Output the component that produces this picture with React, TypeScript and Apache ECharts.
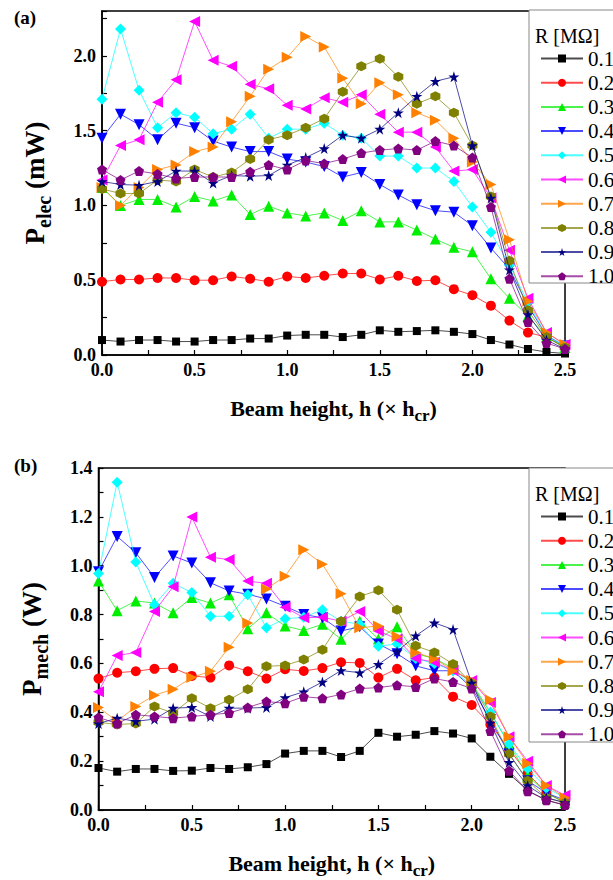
import React, { useEffect, useRef } from "react";
import * as echarts from "echarts";

const X = [0.0, 0.1, 0.2, 0.3, 0.4, 0.5, 0.6, 0.7, 0.8, 0.9, 1.0, 1.1, 1.2, 1.3, 1.4, 1.5, 1.6, 1.7, 1.8, 1.9, 2.0, 2.1, 2.2, 2.3, 2.4, 2.5];
const R_LABELS = ["0.1", "0.2", "0.3", "0.4", "0.5", "0.6", "0.7", "0.8", "0.9", "1.0"];

// Panel (a): P_elec (mW)
const A01 = [0.10, 0.09, 0.10, 0.10, 0.09, 0.09, 0.10, 0.10, 0.11, 0.11, 0.13, 0.135, 0.135, 0.12, 0.135, 0.165, 0.155, 0.16, 0.165, 0.155, 0.14, 0.10, 0.07, 0.04, 0.02, 0.01];
const A02 = [0.49, 0.505, 0.505, 0.515, 0.515, 0.50, 0.50, 0.525, 0.51, 0.49, 0.525, 0.515, 0.53, 0.545, 0.545, 0.505, 0.53, 0.495, 0.50, 0.44, 0.40, 0.33, 0.23, 0.15, 0.12, 0.05];
const A03 = [1.12, 1.00, 1.04, 1.04, 0.99, 1.06, 1.03, 1.07, 0.94, 0.995, 0.95, 0.93, 0.95, 0.90, 0.965, 0.89, 0.89, 0.835, 0.775, 0.72, 0.69, 0.51, 0.38, 0.26, 0.12, 0.05];
const A04 = [1.45, 1.61, 1.54, 1.44, 1.55, 1.52, 1.43, 1.39, 1.36, 1.36, 1.31, 1.29, 1.26, 1.19, 1.22, 1.14, 1.07, 1.005, 0.965, 0.955, 0.865, 0.715, 0.575, 0.33, 0.13, 0.06];
const A05 = [1.71, 2.18, 1.77, 1.52, 1.62, 1.59, 1.48, 1.51, 1.61, 1.45, 1.51, 1.51, 1.55, 1.47, 1.45, 1.33, 1.33, 1.25, 1.25, 1.16, 0.99, 0.82, 0.60, 0.35, 0.13, 0.06];
const A06 = [1.17, 1.40, 1.44, 1.69, 1.84, 2.23, 1.97, 1.93, 1.81, 1.78, 1.67, 1.645, 1.72, 1.69, 1.74, 1.61, 1.49, 1.49, 1.39, 1.23, 1.24, 1.05, 0.70, 0.38, 0.15, 0.07];
const A07 = [1.12, 1.00, 1.12, 1.24, 1.27, 1.36, 1.39, 1.56, 1.73, 1.91, 1.99, 2.13, 2.06, 1.85, 1.68, 1.82, 1.74, 1.62, 1.57, 1.45, 1.29, 1.14, 0.77, 0.36, 0.15, 0.07];
const A08 = [1.11, 1.08, 1.08, 1.17, 1.16, 1.24, 1.19, 1.22, 1.31, 1.44, 1.47, 1.52, 1.58, 1.76, 1.93, 1.98, 1.86, 1.68, 1.73, 1.62, 1.40, 1.06, 0.63, 0.30, 0.12, 0.05];
const A09 = [1.16, 1.14, 1.135, 1.16, 1.23, 1.23, 1.15, 1.20, 1.195, 1.20, 1.27, 1.32, 1.38, 1.47, 1.45, 1.51, 1.62, 1.73, 1.83, 1.86, 1.40, 1.05, 0.57, 0.27, 0.10, 0.04];
const A10 = [1.24, 1.17, 1.23, 1.21, 1.18, 1.19, 1.19, 1.19, 1.225, 1.27, 1.24, 1.30, 1.28, 1.31, 1.35, 1.37, 1.38, 1.37, 1.43, 1.40, 1.32, 0.99, 0.51, 0.22, 0.08, 0.04];

// Panel (b): P_mech (W)
const B01 = [0.172, 0.157, 0.168, 0.168, 0.16, 0.161, 0.172, 0.168, 0.175, 0.188, 0.231, 0.242, 0.242, 0.217, 0.242, 0.316, 0.30, 0.308, 0.323, 0.313, 0.293, 0.218, 0.148, 0.08, 0.04, 0.02];
const B02 = [0.538, 0.562, 0.568, 0.578, 0.581, 0.549, 0.542, 0.592, 0.568, 0.538, 0.576, 0.569, 0.581, 0.605, 0.602, 0.542, 0.578, 0.531, 0.542, 0.464, 0.430, 0.35, 0.249, 0.15, 0.07, 0.03];
const B03 = [0.937, 0.816, 0.856, 0.847, 0.807, 0.870, 0.847, 0.881, 0.742, 0.807, 0.753, 0.735, 0.760, 0.699, 0.773, 0.70, 0.75, 0.64, 0.62, 0.58, 0.52, 0.40, 0.27, 0.14, 0.07, 0.03];
const B04 = [0.975, 1.12, 1.053, 0.952, 1.04, 1.011, 0.93, 0.897, 0.883, 0.864, 0.834, 0.80, 0.787, 0.733, 0.75, 0.68, 0.64, 0.59, 0.57, 0.57, 0.50, 0.37, 0.23, 0.12, 0.07, 0.04];
const B05 = [0.968, 1.342, 1.015, 0.84, 0.928, 0.89, 0.793, 0.793, 0.881, 0.746, 0.783, 0.789, 0.82, 0.773, 0.76, 0.67, 0.68, 0.62, 0.60, 0.57, 0.51, 0.40, 0.27, 0.17, 0.09, 0.05];
const B06 = [0.484, 0.632, 0.645, 0.813, 0.914, 1.199, 1.035, 1.025, 0.937, 0.928, 0.83, 0.787, 0.789, 0.773, 0.813, 0.733, 0.70, 0.62, 0.605, 0.57, 0.53, 0.44, 0.30, 0.20, 0.10, 0.06];
const B07 = [0.42, 0.363, 0.424, 0.47, 0.494, 0.542, 0.568, 0.666, 0.766, 0.905, 0.957, 1.065, 1.006, 0.885, 0.746, 0.753, 0.71, 0.645, 0.62, 0.57, 0.53, 0.45, 0.30, 0.19, 0.10, 0.05];
const B08 = [0.359, 0.35, 0.354, 0.424, 0.397, 0.457, 0.417, 0.451, 0.494, 0.588, 0.592, 0.616, 0.656, 0.773, 0.874, 0.90, 0.82, 0.672, 0.645, 0.598, 0.518, 0.383, 0.229, 0.12, 0.05, 0.03];
const B09 = [0.354, 0.376, 0.363, 0.372, 0.417, 0.42, 0.383, 0.417, 0.417, 0.42, 0.46, 0.484, 0.524, 0.571, 0.562, 0.596, 0.649, 0.713, 0.766, 0.739, 0.52, 0.356, 0.195, 0.10, 0.05, 0.03];
const B10 = [0.379, 0.354, 0.39, 0.383, 0.376, 0.383, 0.39, 0.397, 0.42, 0.444, 0.437, 0.464, 0.457, 0.473, 0.497, 0.501, 0.511, 0.504, 0.538, 0.524, 0.497, 0.323, 0.161, 0.077, 0.04, 0.02];

const PELEC = [A01, A02, A03, A04, A05, A06, A07, A08, A09, A10];
const PMECH = [B01, B02, B03, B04, B05, B06, B07, B08, B09, B10];

const COLORS = ["#000000", "#ff0000", "#00ee00", "#0000ff", "#00ffff", "#ff00ff", "#ff8000", "#808000", "#000080", "#800080"];
const STAR = "path://M50,0L61.17,34.63L97.55,34.55L68.07,55.87L79.39,90.45L50,69L20.61,90.45L31.93,55.87L2.45,34.55L38.83,34.63Z";
const PENT = "path://M50,0L97.55,34.55L79.39,90.45L20.61,90.45L2.45,34.55Z";
const HEX = "path://M50,0L93.3,25L93.3,75L50,100L6.7,75L6.7,25Z";
const SYMBOLS = [
  "rect",
  "circle",
  "triangle",
  "path://M0,0L10,0L5,9Z",
  "diamond",
  "path://M9,0L9,10L0,5Z",
  "path://M0,0L0,10L9,5Z",
  HEX,
  STAR,
  PENT,
];
const SIZES = [8, 10, 11, 11, 11, 11, 11, 10, 11, 10];

const FONT = "Liberation Serif";

export default function App() {
  const ref = useRef<HTMLDivElement>(null);
  useEffect(() => {
    const chart = echarts.init(ref.current!, null, { renderer: "svg" });

    const grids = [
      { left: 102, top: 11, width: 463, height: 344 },
      { left: 98.5, top: 468, width: 466.5, height: 347 },
    ];

    const tickLabel = {
      fontFamily: FONT,
      fontWeight: "bold",
      fontSize: 18,
      lineHeight: 14,
      color: "#000",
    };

    const xName = "{p|Beam height, h (× h}{s|cr}{p|)}";
    const xNameStyle = {
      fontFamily: FONT,
      fontWeight: "bold",
      fontSize: 22,
      color: "#000",
      rich: {
        p: { fontFamily: FONT, fontWeight: "bold", fontSize: 22, color: "#000" },
        s: { fontFamily: FONT, fontWeight: "bold", fontSize: 17, color: "#000", padding: [14, 0, 0, 0] },
      },
    };

    const xAxes = [0, 1].map((i) => ({
      type: "value",
      gridIndex: i,
      min: 0,
      max: 2.5,
      interval: 0.5,
      axisLine: { show: true, onZero: false, lineStyle: { color: "#000", width: 1.5 } },
      axisTick: { show: true, inside: true, length: 5, lineStyle: { color: "#000", width: 1.2 } },
      minorTick: { show: true, splitNumber: 2, length: 5, lineStyle: { color: "#000", width: 1.2 } },
      splitLine: { show: false },
      axisLabel: { ...tickLabel, margin: 8, formatter: (v: number) => v.toFixed(1) },
      name: xName,
      nameLocation: "middle",
      nameGap: 38,
      nameTextStyle: xNameStyle,
    }));

    const yNameStyle = () => ({
      fontFamily: FONT,
      fontWeight: "bold",
      fontSize: 27,
      color: "#000",
      rich: {
        p: { fontFamily: FONT, fontWeight: "bold", fontSize: 27, color: "#000" },
        s: { fontFamily: FONT, fontWeight: "bold", fontSize: 20, color: "#000", padding: [18, 0, 0, 0] },
      },
    });

    const yAxes = [
      {
        type: "value",
        gridIndex: 0,
        min: 0,
        max: 2.3,
        interval: 0.5,
        name: "{p|P}{s|elec}{p| (mW)}",
        nameTextStyle: yNameStyle(),
      },
      {
        type: "value",
        gridIndex: 1,
        min: 0,
        max: 1.4,
        interval: 0.2,
        name: "{p|P}{s|mech}{p| (W)}",
        nameTextStyle: yNameStyle(),
      },
    ].map((a) => ({
      ...a,
      nameLocation: "middle",
      nameRotate: 90,
      nameGap: 48,
      axisLine: { show: true, onZero: false, lineStyle: { color: "#000", width: 1.5 } },
      axisTick: { show: true, inside: true, length: 5, lineStyle: { color: "#000", width: 1.2 } },
      minorTick: { show: true, splitNumber: 2, length: 5, lineStyle: { color: "#000", width: 1.2 } },
      splitLine: { show: false },
      axisLabel: { ...tickLabel, margin: 6, showMaxLabel: a.max === 1.4, formatter: (v: number) => v.toFixed(1) },
    }));

    const makeSeries = (sets: number[][], idx: number) =>
      sets.map((arr, k) => ({
        type: "line",
        name: R_LABELS[k],
        xAxisIndex: idx,
        yAxisIndex: idx,
        data: X.map((x, j) => [x, arr[j]]),
        symbol: SYMBOLS[k],
        symbolSize: SIZES[k],
        showAllSymbol: true,
        itemStyle: { color: COLORS[k] },
        lineStyle: { color: COLORS[k], width: 1, opacity: 0.7 },
        emphasis: { disabled: true },
        z: 2 + k * 0.01,
      }));

    const legendBase = {
      orient: "vertical",
      left: 535,
      padding: 5,
      itemWidth: 42,
      itemHeight: 10,
      itemGap: 3.2,
      selectedMode: false,
      data: R_LABELS,
      textStyle: { fontFamily: FONT, fontSize: 21, color: "#000", lineHeight: 19 },
      z: 10,
    };

    const titleStyle = { text: "R [MΩ]", font: `20px ${FONT}`, fill: "#000", verticalAlign: "middle", lineHeight: 16 };

    const option = {
      animation: false,
      backgroundColor: "#ffffff",
      grid: grids.map((g) => ({ ...g, show: true, borderColor: "#000", borderWidth: 1.5, backgroundColor: "transparent" })),
      xAxis: xAxes,
      yAxis: yAxes,
      legend: [
        { ...legendBase, top: 43 },
        { ...legendBase, top: 501 },
      ],
      graphic: [
        { type: "rect", z: 5, shape: { x: 529, y: 10, width: 100, height: 273 }, style: { fill: "#fff", stroke: "#888", lineWidth: 1 } },
        { type: "rect", z: 5, shape: { x: 529, y: 468, width: 100, height: 274 }, style: { fill: "#fff", stroke: "#888", lineWidth: 1 } },
        { type: "text", z: 11, x: 535, y: 36, style: { ...titleStyle } },
        { type: "text", z: 11, x: 535, y: 494, style: { ...titleStyle } },
        { type: "text", z: 11, x: 14, y: 17, style: { text: "(a)", font: `bold 19px ${FONT}`, fill: "#000", verticalAlign: "middle" } },
        { type: "text", z: 11, x: 14, y: 465, style: { text: "(b)", font: `bold 19px ${FONT}`, fill: "#000", verticalAlign: "middle" } },
      ],
      series: [...makeSeries(PELEC, 0), ...makeSeries(PMECH, 1)],
    };

    chart.setOption(option as any);
    return () => chart.dispose();
  }, []);
  return (
    <div
      ref={ref}
      style={{ position: "absolute", left: 0, top: 0, width: 613, height: 880, background: "#fff" }}
    />
  );
}
